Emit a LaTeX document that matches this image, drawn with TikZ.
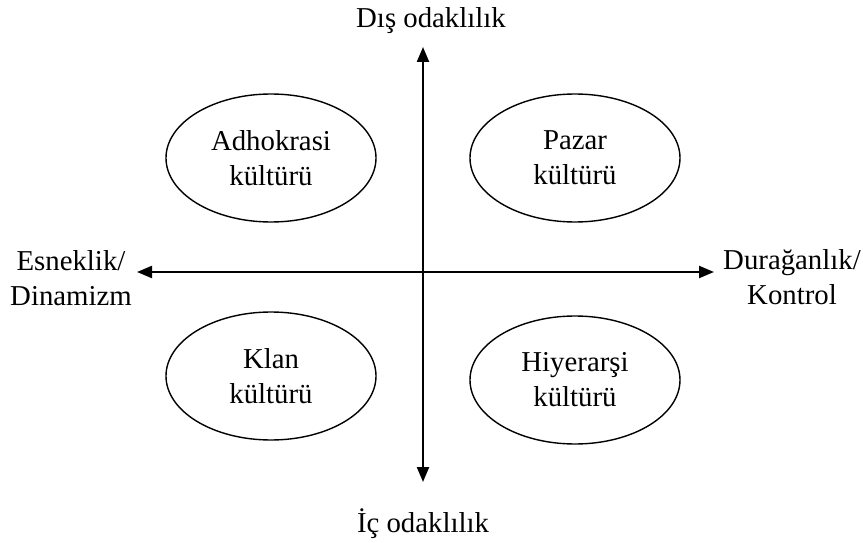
\documentclass[tikz,border=0pt]{standalone}
\usepackage{fontspec}
\setmainfont{Liberation Serif}
\usetikzlibrary{arrows.meta}
\usetikzlibrary{shapes.geometric}
\usetikzlibrary{math}

\begin{document}
\begin{tikzpicture}[x=0.5pt,y=0.5pt,
  culture/.style={ellipse, draw, line width=0.7pt, minimum width=105pt, minimum height=64pt,
    align=center, inner sep=0pt, font=\fontsize{14.4}{17.5}\selectfont},
  axislabel/.style={align=center, inner sep=0pt, font=\fontsize{14.4}{17.5}\selectfont},
  axisarrow/.style={{Triangle[length=7.5pt,width=6pt]}-{Triangle[length=7.5pt,width=6pt]}, line width=1.1pt}]
\tikzmath{
\cx=423;
\cy=270;
\ex=152;
}
\useasboundingbox (0,0) rectangle (863,542);
%axis ends
\coordinate (top) at (\cx,495);
\coordinate (bottom) at (\cx,60);
\coordinate (left) at (137,\cy);
\coordinate (right) at (714,\cy);
\draw[axisarrow] (bottom) -- (top);
\draw[axisarrow] (left) -- (right);
%axis labels
\node[axislabel, anchor=base] (dis) at (431,514) {Dış odaklılık};
\node[axislabel, anchor=base] (ic) at (\cx,10) {İç odaklılık};
\node[axislabel] (esnek) at (71,264) {Esneklik/\\Dinamizm};
\node[axislabel] (durag) at (792,265) {Durağanlık/\\Kontrol};
%cultures
\node[culture] (adhokrasi) at (\cx-\ex,384) {Adhokrasi\\kültürü};
\node[culture] (pazar) at (\cx+\ex,384) {Pazar\\kültürü};
\node[culture] (klan) at (\cx-\ex,166) {Klan\\kültürü};
\node[culture] (hiyerarsi) at (\cx+\ex,162) {Hiyerarşi\\kültürü};
\end{tikzpicture}
\end{document}
